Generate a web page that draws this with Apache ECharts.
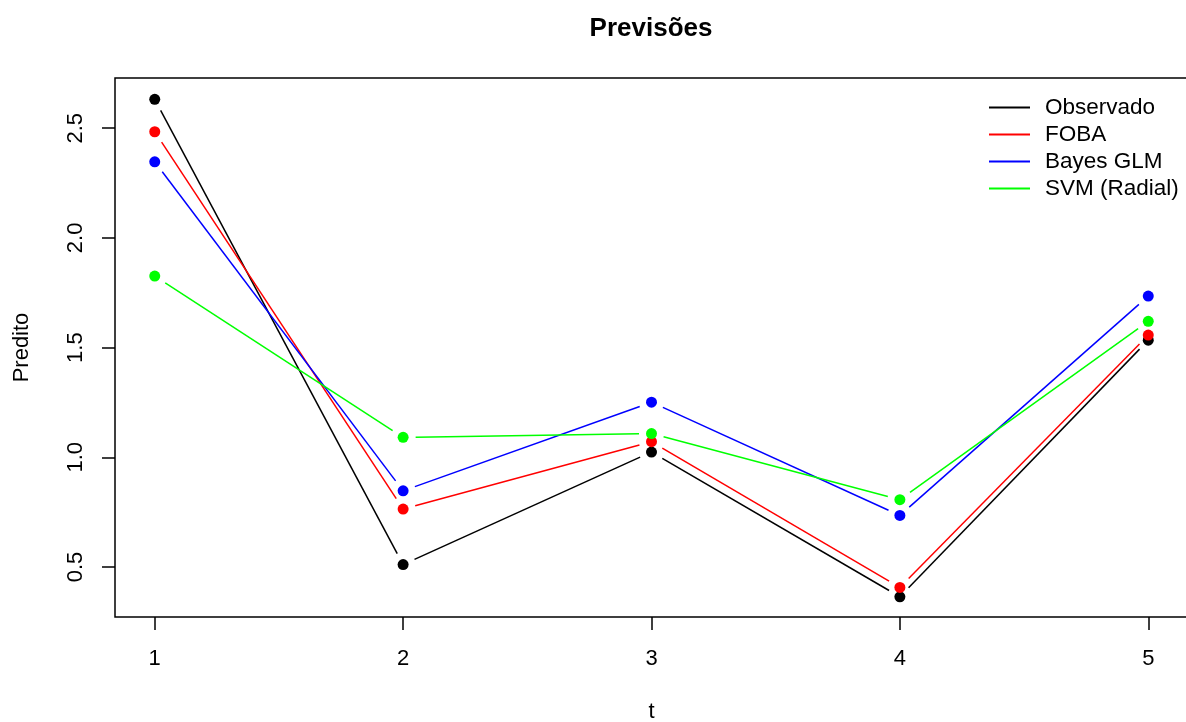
<!DOCTYPE html>
<html>
<head>
<meta charset="utf-8">
<script src="https://cdn.jsdelivr.net/npm/echarts@6/dist/echarts.min.js"></script>
<style>html,body{margin:0;padding:0;background:#fff;}#chart{width:1186px;height:722px;}</style>
</head>
<body>
<div id="chart"></div>
<script>
const tValues = [1, 2, 3, 4, 5];
const observado = [2.632, 0.511, 1.024, 0.364, 1.534];
const foba = [2.484, 0.764, 1.071, 0.407, 1.557];
const bayesGlm = [2.347, 0.847, 1.251, 0.735, 1.735];
const svmRadial = [1.826, 1.091, 1.108, 0.807, 1.620];
const seriesNames = ['Observado', 'FOBA', 'Bayes GLM', 'SVM (Radial)'];
const seriesColors = ['#000000', '#FF0000', '#0000FF', '#00FF00'];
const xTicks = [1, 2, 3, 4, 5];
const yTicks = [0.5, 1.0, 1.5, 2.0, 2.5];

const allValues = [observado, foba, bayesGlm, svmRadial];
const FONT = '"Liberation Sans", Arial, Helvetica, sans-serif';
const GAP = 12.5;

function segmentsOf(vals) {
  const out = [];
  for (let i = 0; i < tValues.length - 1; i++) {
    out.push([tValues[i], vals[i], tValues[i + 1], vals[i + 1]]);
  }
  return out;
}

const series = [];
allValues.forEach(function (vals, k) {
  const color = seriesColors[k];
  series.push({
    type: 'custom',
    name: seriesNames[k],
    silent: true,
    encode: { x: [0, 2], y: [1, 3] },
    data: segmentsOf(vals),
    itemStyle: { color: color },
    renderItem: function (params, api) {
      const p1 = api.coord([api.value(0), api.value(1)]);
      const p2 = api.coord([api.value(2), api.value(3)]);
      const dx = p2[0] - p1[0], dy = p2[1] - p1[1];
      const len = Math.sqrt(dx * dx + dy * dy);
      if (len <= 2 * GAP) return null;
      const ux = dx / len, uy = dy / len;
      return {
        type: 'line',
        shape: {
          x1: p1[0] + ux * GAP, y1: p1[1] + uy * GAP,
          x2: p2[0] - ux * GAP, y2: p2[1] - uy * GAP
        },
        style: { stroke: color, lineWidth: 1.5 }
      };
    }
  });
  series.push({
    type: 'scatter',
    name: seriesNames[k],
    silent: true,
    symbol: 'circle',
    symbolSize: 11,
    itemStyle: { color: color, opacity: 1 },
    data: tValues.map(function (t, i) { return [t, vals[i]]; })
  });
});

const chart = echarts.init(document.getElementById('chart'));
chart.setOption({
  animation: false,
  backgroundColor: '#ffffff',
  textStyle: { fontFamily: FONT },
  title: {
    text: 'Previsões',
    left: 646,
    textAlign: 'center',
    top: 11,
    textStyle: { fontFamily: FONT, fontSize: 26, fontWeight: 'bold', color: '#000' }
  },
  legend: {
    orient: 'vertical',
    left: 984,
    top: 91,
    itemWidth: 41,
    itemHeight: 2,
    itemGap: 4,
    selectedMode: false,
    textStyle: { fontFamily: FONT, fontSize: 22.5, color: '#000', padding: [0, 0, 0, 10] },
    data: seriesNames.map(function (n, k) {
      return { name: n, icon: 'rect', itemStyle: { color: seriesColors[k] } };
    })
  },
  grid: {
    left: 115, top: 78, width: 1073, height: 539,
    outerBoundsMode: 'none',
    containLabel: false,
    show: true, borderColor: '#000', borderWidth: 1.5, backgroundColor: 'transparent'
  },
  xAxis: {
    type: 'value',
    min: 0.84, max: 5.16,
    name: 't',
    nameLocation: 'middle',
    nameGap: 84,
    nameTextStyle: { fontFamily: FONT, fontSize: 22, color: '#000' },
    splitLine: { show: false },
    axisLine: { show: false },
    axisTick: { show: true, customValues: xTicks, length: 13, lineStyle: { color: '#000', width: 1.5 } },
    axisLabel: {
      customValues: xTicks, fontFamily: FONT, fontSize: 22, color: '#000', margin: 31,
      formatter: function (v) { return String(v); }
    }
  },
  yAxis: {
    type: 'value',
    min: 0.272, max: 2.729,
    name: 'Predito',
    nameLocation: 'middle',
    nameRotate: 90,
    nameGap: 82,
    nameTextStyle: { fontFamily: FONT, fontSize: 22, color: '#000' },
    splitLine: { show: false },
    axisLine: { show: false },
    axisTick: { show: true, customValues: yTicks, length: 13, lineStyle: { color: '#000', width: 1.5 } },
    axisLabel: {
      customValues: yTicks, rotate: 90, fontFamily: FONT, fontSize: 22, color: '#000', margin: 28,
      formatter: function (v) { return v.toFixed(1); }
    }
  },
  series: series
});
</script>
</body>
</html>
